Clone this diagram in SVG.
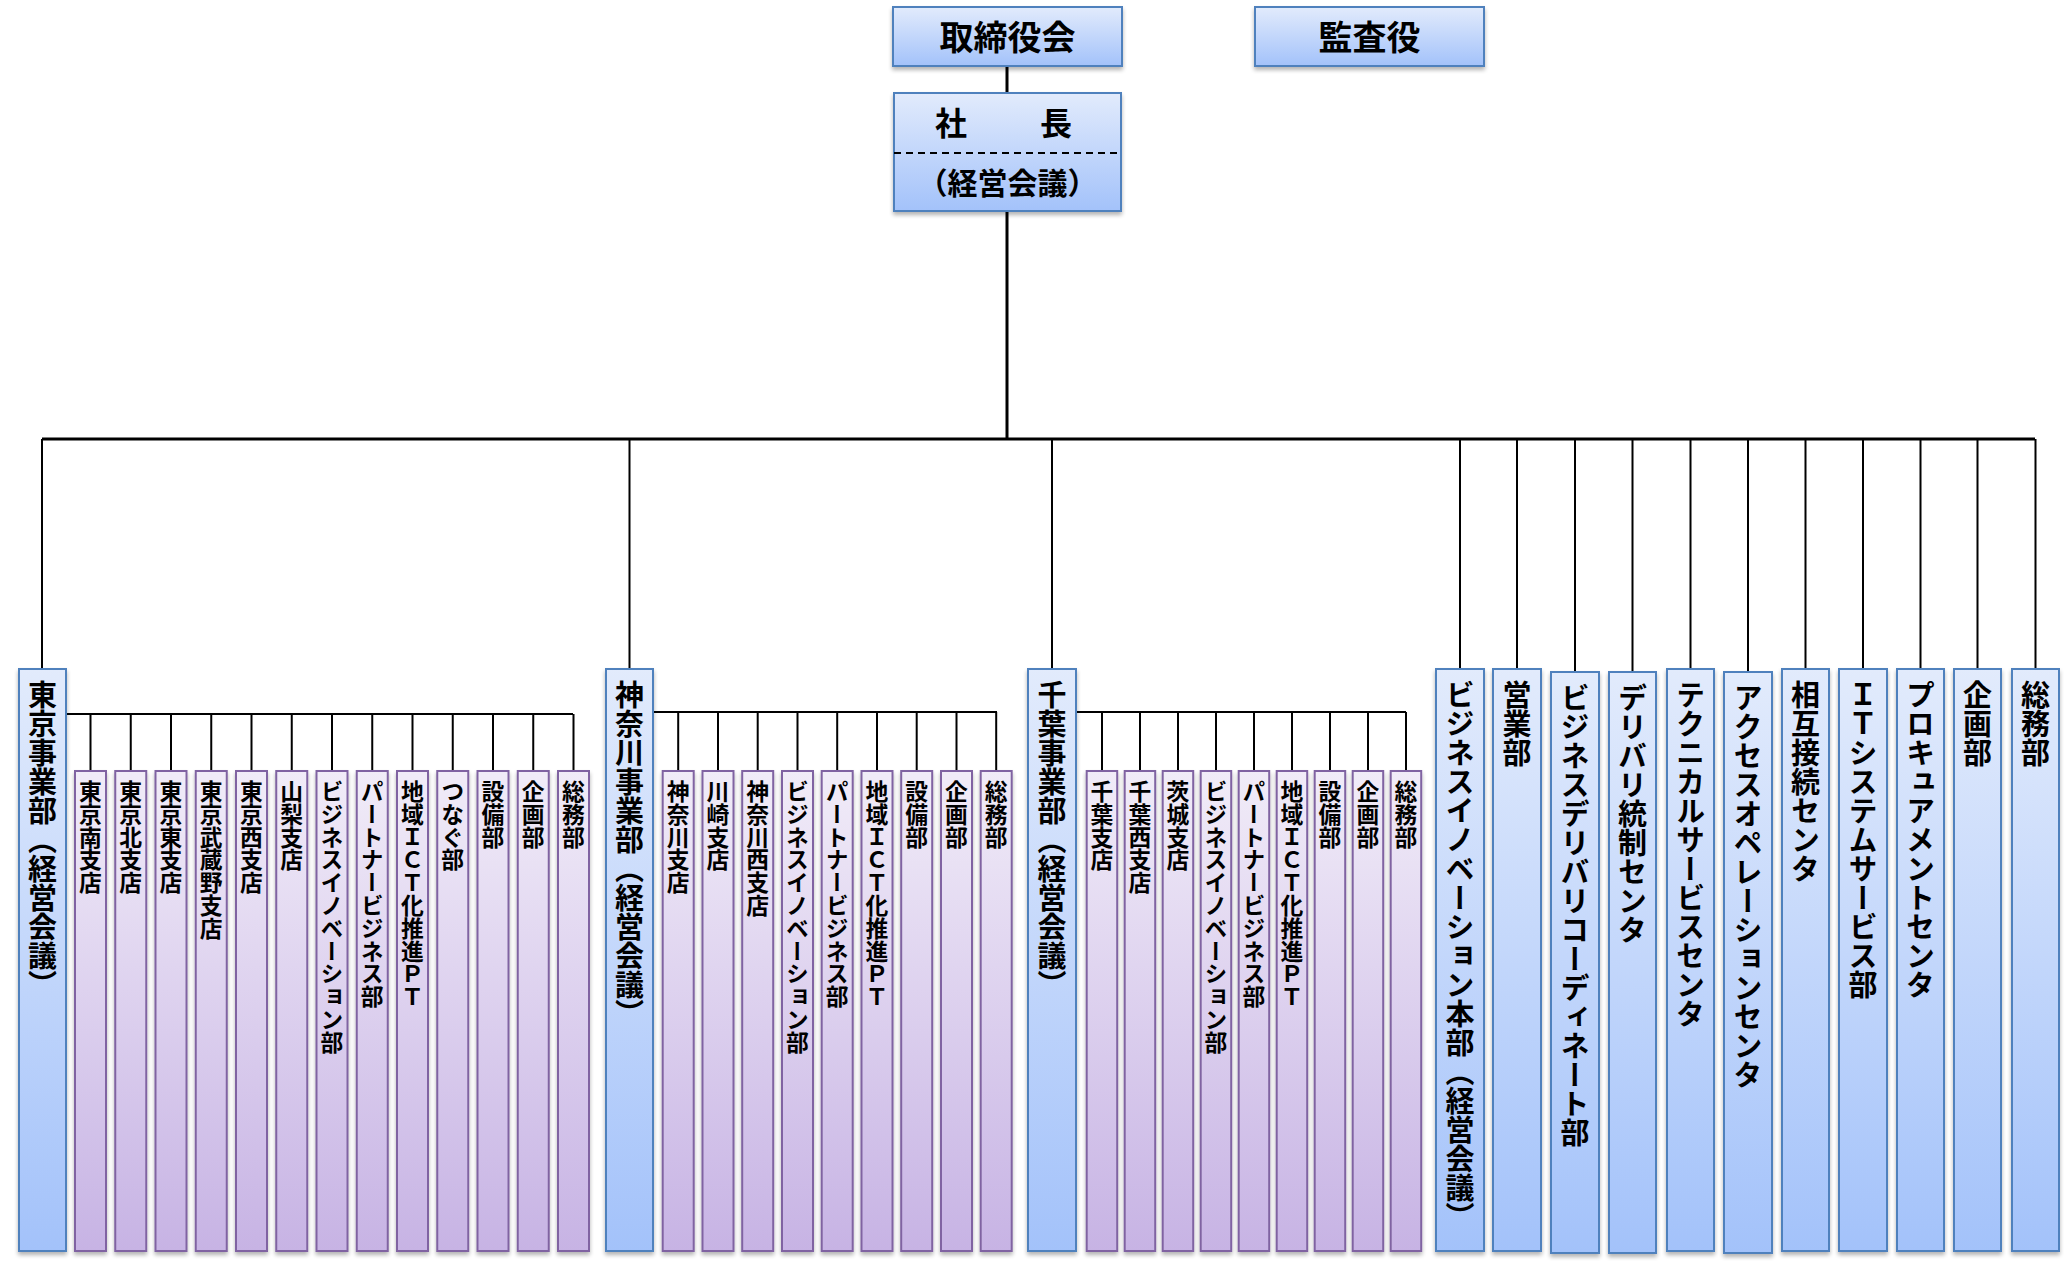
<svg xmlns="http://www.w3.org/2000/svg" width="2070" height="1264" viewBox="0 0 2070 1264">
<defs>
<linearGradient id="gb" x1="0" y1="0" x2="0" y2="1"><stop offset="0" stop-color="#e2ebfc"/><stop offset="1" stop-color="#a3c2fa"/></linearGradient>
<linearGradient id="gp" x1="0" y1="0" x2="0" y2="1"><stop offset="0" stop-color="#f1ecf8"/><stop offset="1" stop-color="#c7b3e4"/></linearGradient>
<filter id="sh" x="-30%" y="-10%" width="160%" height="125%"><feGaussianBlur in="SourceAlpha" stdDeviation="2"/><feOffset dx="0" dy="3" result="b"/><feComponentTransfer><feFuncA type="linear" slope="0.3"/></feComponentTransfer><feMerge><feMergeNode/><feMergeNode in="SourceGraphic"/></feMerge></filter>
</defs>
<style>
.b{fill:url(#gb);stroke:#4f81bd;stroke-width:2;filter:url(#sh)}
.p{fill:url(#gp);stroke:#8064a2;stroke-width:2;filter:url(#sh)}
text{font-family:"Noto Sans CJK JP","Noto Sans CJK SC",sans-serif;font-weight:bold;fill:#000}
.h{font-size:34px;text-anchor:middle}
.v{writing-mode:vertical-rl;font-size:29px}
.s{writing-mode:vertical-rl;font-size:22.8px}
.c{fill:none;stroke:#000;stroke-width:2}
.t{fill:none;stroke:#000;stroke-width:3}
</style>
<g id="connectors">
<path class="t" d="M1007,66V93M1007,211V439M42,439H2035"/>
<path class="c" d="M42,439V669M629.5,439V669M1052,439V669M1460,439V669M1517,439V669M1575,439V672M1632.5,439V672M1690.5,439V669M1748,439V672M1805.5,439V669M1863,439V669M1920.5,439V669M1977.5,439V669M2035.5,439V669"/>
<path class="c" d="M66,714H573M90.5,714V771M130.75,714V771M171,714V771M211.25,714V771M251.5,714V771M291.75,714V771M332,714V771M372.25,714V771M412.5,714V771M452.75,714V771M493,714V771M533.25,714V771M573.5,714V771"/>
<path class="c" d="M653,712H997M678.2,712V771M718,712V771M757.7,712V771M797.5,712V771M837.2,712V771M877,712V771M916.7,712V771M956.5,712V771M996.2,712V771"/>
<path class="c" d="M1076,712H1406M1102,712V771M1140,712V771M1178,712V771M1216,712V771M1254,712V771M1292,712V771M1330,712V771M1368,712V771M1406,712V771"/>
</g>
<g id="board"><rect class="b" x="893" y="7" width="229" height="59"/><text class="h" x="1007.5" y="50">取締役会</text></g>
<g id="auditor"><rect class="b" x="1255" y="7" width="229" height="59"/><text class="h" x="1369.5" y="50">監査役</text></g>
<g id="president"><rect class="b" x="894" y="93" width="227" height="118"/><line x1="894" y1="153" x2="1121" y2="153" stroke="#000" stroke-width="2" stroke-dasharray="7,5"/><text class="h" style="font-size:32px"><tspan x="951" y="135">社</tspan><tspan x="1056" y="135">長</tspan></text><text class="h" style="font-size:30px" x="1007.5" y="194">（経営会議）</text></g>
<g id="tokyo"><rect class="b" x="19" y="669" width="47" height="582"/><text class="v" x="42.5" y="680">東京事業部（経営会議）</text></g>
<g id="tokyo-subs">
<rect class="p" x="75" y="771" width="31" height="480"/><text class="s" x="90.5" y="780">東京南支店</text>
<rect class="p" x="115.25" y="771" width="31" height="480"/><text class="s" x="130.75" y="780">東京北支店</text>
<rect class="p" x="155.5" y="771" width="31" height="480"/><text class="s" x="171" y="780">東京東支店</text>
<rect class="p" x="195.75" y="771" width="31" height="480"/><text class="s" x="211.25" y="780">東京武蔵野支店</text>
<rect class="p" x="236" y="771" width="31" height="480"/><text class="s" x="251.5" y="780">東京西支店</text>
<rect class="p" x="276.25" y="771" width="31" height="480"/><text class="s" x="291.75" y="780">山梨支店</text>
<rect class="p" x="316.5" y="771" width="31" height="480"/><text class="s" x="332" y="780">ビジネスイノベーション部</text>
<rect class="p" x="356.75" y="771" width="31" height="480"/><text class="s" x="372.25" y="780">パートナービジネス部</text>
<rect class="p" x="397" y="771" width="31" height="480"/><text class="s" x="412.5" y="780">地域ＩＣＴ化推進ＰＴ</text>
<rect class="p" x="437.25" y="771" width="31" height="480"/><text class="s" x="452.75" y="780">つなぐ部</text>
<rect class="p" x="477.5" y="771" width="31" height="480"/><text class="s" x="493" y="780">設備部</text>
<rect class="p" x="517.75" y="771" width="31" height="480"/><text class="s" x="533.25" y="780">企画部</text>
<rect class="p" x="558" y="771" width="31" height="480"/><text class="s" x="573.5" y="780">総務部</text>
</g>
<g id="kanagawa"><rect class="b" x="606" y="669" width="47" height="582"/><text class="v" x="629.5" y="680">神奈川事業部（経営会議）</text></g>
<g id="kanagawa-subs">
<rect class="p" x="662.7" y="771" width="31" height="480"/><text class="s" x="678.2" y="780">神奈川支店</text>
<rect class="p" x="702.5" y="771" width="31" height="480"/><text class="s" x="718" y="780">川崎支店</text>
<rect class="p" x="742.2" y="771" width="31" height="480"/><text class="s" x="757.7" y="780">神奈川西支店</text>
<rect class="p" x="782" y="771" width="31" height="480"/><text class="s" x="797.5" y="780">ビジネスイノベーション部</text>
<rect class="p" x="821.7" y="771" width="31" height="480"/><text class="s" x="837.2" y="780">パートナービジネス部</text>
<rect class="p" x="861.5" y="771" width="31" height="480"/><text class="s" x="877" y="780">地域ＩＣＴ化推進ＰＴ</text>
<rect class="p" x="901.2" y="771" width="31" height="480"/><text class="s" x="916.7" y="780">設備部</text>
<rect class="p" x="941" y="771" width="31" height="480"/><text class="s" x="956.5" y="780">企画部</text>
<rect class="p" x="980.7" y="771" width="31" height="480"/><text class="s" x="996.2" y="780">総務部</text>
</g>
<g id="chiba"><rect class="b" x="1028" y="669" width="48" height="582"/><text class="v" x="1052" y="680">千葉事業部（経営会議）</text></g>
<g id="chiba-subs">
<rect class="p" x="1086.7" y="771" width="30.5" height="480"/><text class="s" x="1102" y="780">千葉支店</text>
<rect class="p" x="1124.7" y="771" width="30.5" height="480"/><text class="s" x="1140" y="780">千葉西支店</text>
<rect class="p" x="1162.7" y="771" width="30.5" height="480"/><text class="s" x="1178" y="780">茨城支店</text>
<rect class="p" x="1200.7" y="771" width="30.5" height="480"/><text class="s" x="1216" y="780">ビジネスイノベーション部</text>
<rect class="p" x="1238.7" y="771" width="30.5" height="480"/><text class="s" x="1254" y="780">パートナービジネス部</text>
<rect class="p" x="1276.7" y="771" width="30.5" height="480"/><text class="s" x="1292" y="780">地域ＩＣＴ化推進ＰＴ</text>
<rect class="p" x="1314.7" y="771" width="30.5" height="480"/><text class="s" x="1330" y="780">設備部</text>
<rect class="p" x="1352.7" y="771" width="30.5" height="480"/><text class="s" x="1368" y="780">企画部</text>
<rect class="p" x="1390.7" y="771" width="30.5" height="480"/><text class="s" x="1406" y="780">総務部</text>
</g>
<g id="bi-hq"><rect class="b" x="1436" y="669" width="48" height="582"/><text class="v" x="1460" y="680">ビジネスイノベーション本部（経営会議）</text></g>
<g id="sales"><rect class="b" x="1493" y="669" width="48" height="582"/><text class="v" x="1517" y="680">営業部</text></g>
<g id="bdc"><rect class="b" x="1551" y="672" width="48" height="581"/><text class="v" x="1575" y="683">ビジネスデリバリコーディネート部</text></g>
<g id="delivery"><rect class="b" x="1609" y="672" width="47" height="581"/><text class="v" x="1632.5" y="683">デリバリ統制センタ</text></g>
<g id="technical"><rect class="b" x="1667" y="669" width="47" height="582"/><text class="v" x="1690.5" y="680">テクニカルサービスセンタ</text></g>
<g id="access"><rect class="b" x="1724" y="672" width="48" height="581"/><text class="v" x="1748" y="683">アクセスオペレーションセンタ</text></g>
<g id="interconnect"><rect class="b" x="1782" y="669" width="47" height="582"/><text class="v" x="1805.5" y="680">相互接続センタ</text></g>
<g id="it"><rect class="b" x="1839" y="669" width="48" height="582"/><text class="v" x="1863" y="680">ＩＴシステムサービス部</text></g>
<g id="procurement"><rect class="b" x="1897" y="669" width="47" height="582"/><text class="v" x="1920.5" y="680">プロキュアメントセンタ</text></g>
<g id="planning"><rect class="b" x="1954" y="669" width="47" height="582"/><text class="v" x="1977.5" y="680">企画部</text></g>
<g id="general"><rect class="b" x="2012" y="669" width="47" height="582"/><text class="v" x="2035.5" y="680">総務部</text></g>
</svg>
